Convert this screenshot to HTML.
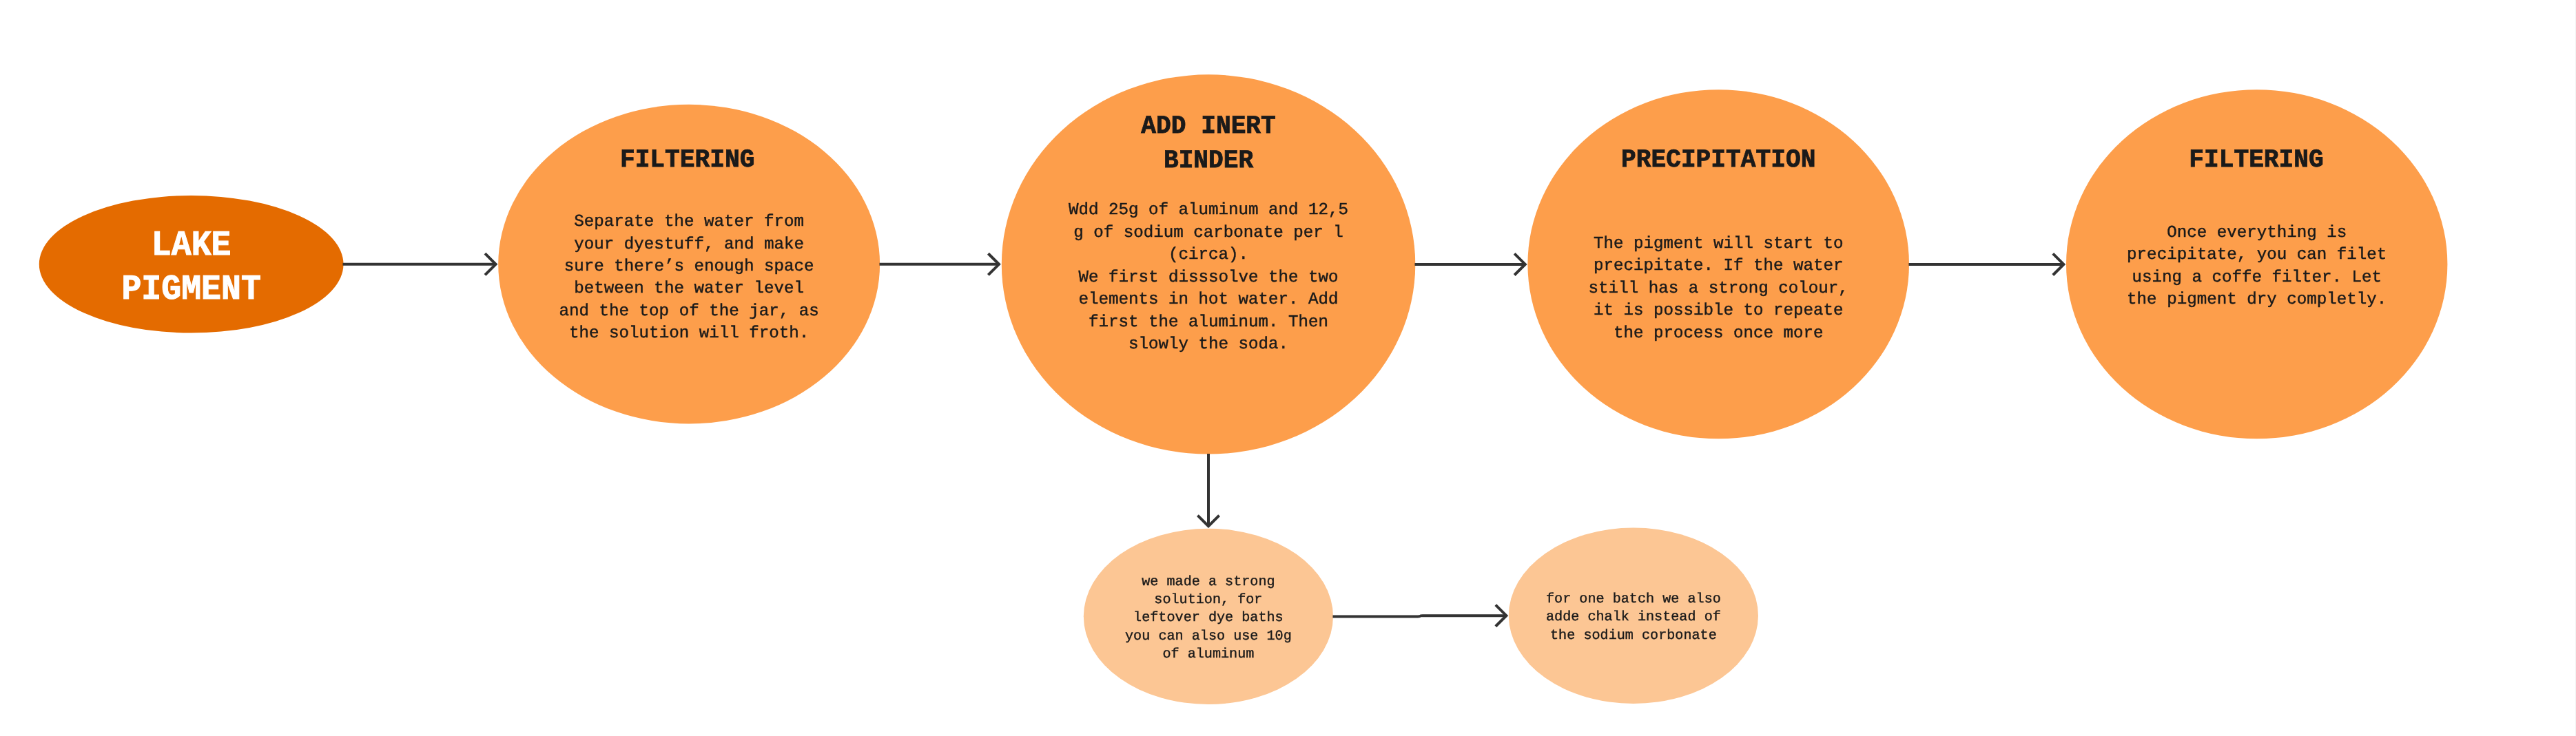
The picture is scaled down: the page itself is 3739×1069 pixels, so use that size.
<!DOCTYPE html>
<html lang="en"><head><meta charset="utf-8"><title>Lake pigment process</title>
<style>
html,body{margin:0;padding:0;background:#fff;}
body{width:3739px;height:1069px;overflow:hidden;}
svg{display:block;will-change:transform;}
</style></head><body>
<svg width="3739" height="1069" viewBox="0 0 3739 1069">
<rect width="3739" height="1069" fill="#ffffff"/>
<rect x="3738" y="0" width="1" height="1069" fill="#f2f2f2"/>
<g>
<ellipse cx="277.65" cy="383.75" rx="220.85" ry="99.75" fill="#E46B00"/>
<ellipse cx="1000.15" cy="383.65" rx="276.95" ry="231.85" fill="#FD9E4B"/>
<ellipse cx="1754.05" cy="383.9" rx="300.25" ry="275.6" fill="#FD9E4B"/>
<ellipse cx="2494.2" cy="383.75" rx="276.8" ry="253.55" fill="#FD9E4B"/>
<ellipse cx="3275.7" cy="383.75" rx="276.7" ry="253.55" fill="#FD9E4B"/>
<ellipse cx="1753.9" cy="895.35" rx="181.1" ry="127.65" fill="#FCC694"/>
<ellipse cx="2370.9" cy="894.2" rx="181.1" ry="127.7" fill="#FCC694"/>
</g>
<g fill="none" stroke="#333333" stroke-width="4" stroke-linejoin="miter" stroke-linecap="butt">
<path d="M497.5 383.8 L719.57 383.8"/><path d="M703.97 368.20 L719.57 383.8 L703.97 399.40"/>
<path d="M1276.5 383.85 L1449.97 383.85"/><path d="M1434.37 368.25 L1449.97 383.85 L1434.37 399.45"/>
<path d="M2053.5 383.9 L2213.77 383.9"/><path d="M2198.17 368.30 L2213.77 383.9 L2198.17 399.50"/>
<path d="M2770.5 383.9 L2995.37 383.9"/><path d="M2979.77 368.30 L2995.37 383.9 L2979.77 399.50"/>
<path d="M1754 659 L1754 764.27"/><path d="M1738.4 748.67 L1754 764.27 L1769.6 748.67"/>
<path d="M1934.5 895.45 L2058 895.45 Q2061 895.45 2061.5 894.8 Q2062 894.15 2065 894.15 L2186.42 894.15"/><path d="M2170.82 878.55 L2186.42 894.15 L2170.82 909.75"/>
</g>
<g font-family='"Liberation Mono", "DejaVu Sans Mono", monospace' text-anchor="middle" text-rendering="geometricPrecision" xml:space="preserve">
<text transform="translate(277.65 369.70) scale(1 1.0591805766312594)" font-size="48.20" font-weight="700" fill="#ffffff" stroke="#ffffff" stroke-width="1.0">LAKE</text>
<text transform="translate(277.65 433.90) scale(1 1.0591805766312594)" font-size="48.20" font-weight="700" fill="#ffffff" stroke="#ffffff" stroke-width="1.0">PIGMENT</text>
<text transform="translate(997.65 242.20) scale(1 1.03)" font-size="36.20" font-weight="700" fill="#1a1a1a" stroke="#1a1a1a" stroke-width="0.8">FILTERING</text>
<text transform="translate(1754.05 192.50) scale(1 1.03)" font-size="36.20" font-weight="700" fill="#1a1a1a" stroke="#1a1a1a" stroke-width="0.8">ADD INERT</text>
<text transform="translate(1754.05 242.50) scale(1 1.03)" font-size="36.20" font-weight="700" fill="#1a1a1a" stroke="#1a1a1a" stroke-width="0.8">BINDER</text>
<text transform="translate(2494.20 242.20) scale(1 1.03)" font-size="36.20" font-weight="700" fill="#1a1a1a" stroke="#1a1a1a" stroke-width="0.8">PRECIPITATION</text>
<text transform="translate(3275.00 242.20) scale(1 1.03)" font-size="36.20" font-weight="700" fill="#1a1a1a" stroke="#1a1a1a" stroke-width="0.8">FILTERING</text>
<text x="1000.15" y="328.10" font-size="24.18" font-weight="400" fill="#1a1a1a" stroke="#1a1a1a" stroke-width="0.45">Separate the water from</text>
<text x="1000.15" y="360.52" font-size="24.18" font-weight="400" fill="#1a1a1a" stroke="#1a1a1a" stroke-width="0.45">your dyestuff, and make</text>
<text x="1000.15" y="392.94" font-size="24.18" font-weight="400" fill="#1a1a1a" stroke="#1a1a1a" stroke-width="0.45">sure there’s enough space</text>
<text x="1000.15" y="425.36" font-size="24.18" font-weight="400" fill="#1a1a1a" stroke="#1a1a1a" stroke-width="0.45">between the water level</text>
<text x="1000.15" y="457.78" font-size="24.18" font-weight="400" fill="#1a1a1a" stroke="#1a1a1a" stroke-width="0.45">and the top of the jar, as</text>
<text x="1000.15" y="490.20" font-size="24.18" font-weight="400" fill="#1a1a1a" stroke="#1a1a1a" stroke-width="0.45">the solution will froth.</text>
<text x="1754.05" y="311.45" font-size="24.18" font-weight="400" fill="#1a1a1a" stroke="#1a1a1a" stroke-width="0.45">Wdd 25g of aluminum and 12,5</text>
<text x="1754.05" y="343.87" font-size="24.18" font-weight="400" fill="#1a1a1a" stroke="#1a1a1a" stroke-width="0.45">g of sodium carbonate per l</text>
<text x="1754.05" y="376.29" font-size="24.18" font-weight="400" fill="#1a1a1a" stroke="#1a1a1a" stroke-width="0.45">(circa).</text>
<text x="1754.05" y="408.71" font-size="24.18" font-weight="400" fill="#1a1a1a" stroke="#1a1a1a" stroke-width="0.45">We first disssolve the two</text>
<text x="1754.05" y="441.13" font-size="24.18" font-weight="400" fill="#1a1a1a" stroke="#1a1a1a" stroke-width="0.45">elements in hot water. Add</text>
<text x="1754.05" y="473.55" font-size="24.18" font-weight="400" fill="#1a1a1a" stroke="#1a1a1a" stroke-width="0.45">first the aluminum. Then</text>
<text x="1754.05" y="505.97" font-size="24.18" font-weight="400" fill="#1a1a1a" stroke="#1a1a1a" stroke-width="0.45">slowly the soda.</text>
<text x="2494.20" y="359.90" font-size="24.18" font-weight="400" fill="#1a1a1a" stroke="#1a1a1a" stroke-width="0.45">The pigment will start to</text>
<text x="2494.20" y="392.32" font-size="24.18" font-weight="400" fill="#1a1a1a" stroke="#1a1a1a" stroke-width="0.45">precipitate. If the water</text>
<text x="2494.20" y="424.74" font-size="24.18" font-weight="400" fill="#1a1a1a" stroke="#1a1a1a" stroke-width="0.45">still has a strong colour,</text>
<text x="2494.20" y="457.16" font-size="24.18" font-weight="400" fill="#1a1a1a" stroke="#1a1a1a" stroke-width="0.45">it is possible to repeate</text>
<text x="2494.20" y="489.58" font-size="24.18" font-weight="400" fill="#1a1a1a" stroke="#1a1a1a" stroke-width="0.45">the process once more</text>
<text x="3275.70" y="344.00" font-size="24.18" font-weight="400" fill="#1a1a1a" stroke="#1a1a1a" stroke-width="0.45">Once everything is</text>
<text x="3275.70" y="376.42" font-size="24.18" font-weight="400" fill="#1a1a1a" stroke="#1a1a1a" stroke-width="0.45">precipitate, you can filet</text>
<text x="3275.70" y="408.84" font-size="24.18" font-weight="400" fill="#1a1a1a" stroke="#1a1a1a" stroke-width="0.45">using a coffe filter. Let</text>
<text x="3275.70" y="441.26" font-size="24.18" font-weight="400" fill="#1a1a1a" stroke="#1a1a1a" stroke-width="0.45">the pigment dry completly.</text>
<text x="1753.90" y="849.60" font-size="20.15" font-weight="400" fill="#1a1a1a" stroke="#1a1a1a" stroke-width="0.4">we made a strong</text>
<text x="1753.90" y="875.92" font-size="20.15" font-weight="400" fill="#1a1a1a" stroke="#1a1a1a" stroke-width="0.4">solution, for</text>
<text x="1753.90" y="902.24" font-size="20.15" font-weight="400" fill="#1a1a1a" stroke="#1a1a1a" stroke-width="0.4">leftover dye baths</text>
<text x="1753.90" y="928.56" font-size="20.15" font-weight="400" fill="#1a1a1a" stroke="#1a1a1a" stroke-width="0.4">you can also use 10g</text>
<text x="1753.90" y="954.88" font-size="20.15" font-weight="400" fill="#1a1a1a" stroke="#1a1a1a" stroke-width="0.4">of aluminum</text>
<text x="2370.90" y="875.00" font-size="20.15" font-weight="400" fill="#1a1a1a" stroke="#1a1a1a" stroke-width="0.4">for one batch we also</text>
<text x="2370.90" y="901.35" font-size="20.15" font-weight="400" fill="#1a1a1a" stroke="#1a1a1a" stroke-width="0.4">adde chalk instead of</text>
<text x="2370.90" y="927.70" font-size="20.15" font-weight="400" fill="#1a1a1a" stroke="#1a1a1a" stroke-width="0.4">the sodium corbonate</text>
</g></svg>
</body></html>
